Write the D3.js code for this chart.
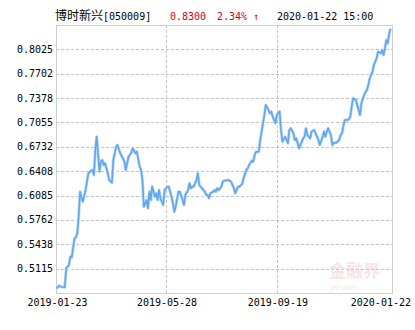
<!DOCTYPE html>
<html>
<head>
<meta charset="utf-8">
<script src="https://cdn.jsdelivr.net/npm/d3@7"></script>
<style>
  html, body { margin: 0; padding: 0; background: #fff; }
  text { font-family: "DejaVu Sans Mono", "Liberation Mono", monospace; }
</style>
</head>
<body>
<div id="navChart"></div>
<script>
// Header texts
const fundName = "博时新兴[050009]";
const lastNav = "0.8300";
const lastChange = "2.34% ↑";
const lastTime = "2020-01-22 15:00";

// Trading-day index of every point
const days = [
  0, 2, 3, 6, 7, 9, 10, 11, 13, 14,
  15, 16, 17, 19, 20, 21, 22, 23, 25, 26,
  27, 28, 29, 30, 31, 32, 33, 34, 35, 37,
  38, 40, 41, 43, 44, 46, 47, 49, 50, 52,
  54, 55, 57, 58, 60, 61, 62, 63, 65, 66,
  67, 68, 69, 71, 72, 73, 74, 75, 77, 78,
  80, 81, 83, 84, 85, 86, 88, 89, 91, 92,
  93, 95, 96, 97, 98, 99, 101, 102, 103, 104,
  105, 107, 108, 109, 110, 111, 113, 114, 115, 116,
  117, 119, 120, 121, 124, 126, 128, 129, 131, 132,
  134, 135, 137, 138, 139, 141, 142, 143, 144, 146,
  147, 148, 149, 150, 151, 153, 154, 155, 156, 158,
  159, 160, 161, 162, 163, 165, 166, 167, 168, 169,
  171, 172, 173, 174, 175, 177, 178, 179, 180, 181,
  183, 184, 186, 187, 188, 189, 190, 192, 193, 194,
  195, 196, 198, 199, 200, 201, 202, 204, 205, 206,
  207, 208, 210, 211, 212, 213, 214, 216, 217, 218,
  219, 220, 222, 223, 224, 225, 226, 228, 229, 230,
  231, 232, 234, 235, 236, 237, 238, 239, 240, 241
];

// Unit net value
const nav = [
  0.4854, 0.4889, 0.4876, 0.4868, 0.5120, 0.5164, 0.5274, 0.5266, 0.5518, 0.5531,
  0.5584, 0.5805, 0.6136, 0.6004, 0.6079, 0.6159, 0.6269, 0.6380, 0.6415, 0.6424,
  0.6358, 0.6690, 0.6866, 0.6646, 0.6402, 0.6534, 0.6557, 0.6491, 0.6513, 0.6380,
  0.6292, 0.6256, 0.6557, 0.6733, 0.6756, 0.6646, 0.6610, 0.6534, 0.6424, 0.6601,
  0.6654, 0.6712, 0.6646, 0.6667, 0.6468, 0.6424, 0.6292, 0.5937, 0.6026, 0.5916,
  0.6136, 0.6026, 0.6203, 0.6070, 0.6115, 0.6026, 0.6159, 0.6049, 0.5960, 0.6159,
  0.6203, 0.6203, 0.6070, 0.5982, 0.5871, 0.5937, 0.6136, 0.6136, 0.6026, 0.5960,
  0.6093, 0.6159, 0.6248, 0.6181, 0.6203, 0.6203, 0.6292, 0.6380, 0.6225, 0.6203,
  0.6181, 0.6136, 0.6093, 0.6093, 0.6049, 0.6115, 0.6136, 0.6159, 0.6136, 0.6181,
  0.6159, 0.6203, 0.6269, 0.6282, 0.6292, 0.6269, 0.6181, 0.6115, 0.6203, 0.6203,
  0.6238, 0.6314, 0.6424, 0.6447, 0.6491, 0.6548, 0.6534, 0.6623, 0.6667, 0.6667,
  0.6822, 0.6933, 0.7044, 0.7154, 0.7287, 0.7220, 0.7177, 0.7198, 0.7132, 0.7044,
  0.7154, 0.7185, 0.7198, 0.6955, 0.6800, 0.6866, 0.6822, 0.6779, 0.6955, 0.6978,
  0.6911, 0.6822, 0.6845, 0.6779, 0.6712, 0.6800, 0.6845, 0.6866, 0.6978, 0.6889,
  0.6845, 0.6933, 0.6955, 0.6911, 0.6866, 0.6822, 0.6756, 0.6866, 0.6933, 0.6866,
  0.6933, 0.6978, 0.6889, 0.6756, 0.6779, 0.6787, 0.6787, 0.6822, 0.6889, 0.6911,
  0.7008, 0.7088, 0.7088, 0.7097, 0.7132, 0.7264, 0.7376, 0.7353, 0.7287, 0.7220,
  0.7154, 0.7309, 0.7420, 0.7463, 0.7486, 0.7552, 0.7641, 0.7729, 0.7818, 0.7861,
  0.7907, 0.7994, 0.7973, 0.8017, 0.7950, 0.8039, 0.8149, 0.8106, 0.8227, 0.8300
];

// Axis ticks
const yTicks = [0.5115, 0.5438, 0.5762, 0.6085, 0.6408, 0.6732, 0.7055, 0.7378, 0.7702, 0.8025];
const yDomain = [0.4792, 0.8348];
const xTickDays = [0, 79, 159, 241];
const xTickLabels = ["2019-01-23", "2019-05-28", "2019-09-19", "2020-01-22"];

// Dimensions
const W = 415, H = 330;
const margin = { top: 25, right: 23, bottom: 37, left: 56 };
const plotW = W - margin.left - margin.right;
const plotH = H - margin.top - margin.bottom;

const svg = d3.select("#navChart")
  .append("svg")
  .attr("width", W)
  .attr("height", H);

// Scales
const x = d3.scaleLinear().domain([0, 241]).range([margin.left + 0.5, margin.left + plotW - 1.5]);
const y = d3.scaleLinear().domain(yDomain).range([margin.top + plotH, margin.top]);
const crisp = v => Math.round(v) + 0.5;

// Header
const header = svg.append("text")
  .attr("y", 20)
  .style("font-size", "10px");
header.append("tspan").attr("x", 55)
  .style("font-family", "'Noto Sans CJK SC', sans-serif").style("font-size", "12px")
  .text(fundName.slice(0, 4));
header.append("tspan").text(fundName.slice(4));
svg.append("text").attr("x", 170).attr("y", 20).style("font-size", "10px")
  .attr("fill", "#d4001f").text(lastNav);
svg.append("text").attr("x", 217).attr("y", 20).style("font-size", "10px")
  .attr("fill", "#d4001f").text(lastChange);
svg.append("text").attr("x", 277).attr("y", 20).style("font-size", "10px")
  .attr("fill", "#000").text(lastTime);

// Watermark
const mark = svg.append("g").attr("opacity", 0.22);
mark.append("text").attr("x", 329).attr("y", 277)
  .style("font-family", "'Noto Sans CJK SC', sans-serif").style("font-size", "17px")
  .style("font-weight", "bold").attr("fill", "#e08a8a").text("金融界");
mark.append("text").attr("x", 331).attr("y", 290)
  .style("font-family", "'DejaVu Sans', sans-serif").style("font-size", "7px")
  .style("font-style", "italic").attr("fill", "#e08a8a").text("JRJ.com");

// Horizontal grid
svg.append("g")
  .selectAll("line")
  .data(yTicks)
  .join("line")
  .attr("x1", margin.left)
  .attr("x2", margin.left + plotW)
  .attr("y1", d => crisp(y(d)))
  .attr("y2", d => crisp(y(d)))
  .attr("stroke", "#c4c4c4")
  .attr("stroke-dasharray", "3,2");

// Vertical grid (inner ticks only)
svg.append("g")
  .selectAll("line")
  .data(xTickDays.slice(1, -1))
  .join("line")
  .attr("x1", d => crisp(x(d)))
  .attr("x2", d => crisp(x(d)))
  .attr("y1", margin.top)
  .attr("y2", margin.top + plotH)
  .attr("stroke", "#c4c4c4")
  .attr("stroke-dasharray", "3,2");

// Frame
svg.append("rect")
  .attr("x", margin.left + 0.5)
  .attr("y", margin.top + 0.5)
  .attr("width", plotW)
  .attr("height", plotH)
  .attr("fill", "none")
  .attr("stroke", "#cfcfcf");

// Y labels
svg.append("g")
  .selectAll("text")
  .data(yTicks)
  .join("text")
  .attr("x", 53)
  .attr("y", d => y(d))
  .attr("dy", "0.35em")
  .attr("text-anchor", "end")
  .style("font-size", "10px")
  .text(d => d.toFixed(4));

// X labels
svg.append("g")
  .selectAll("text")
  .data(xTickDays)
  .join("text")
  .attr("x", (d, i) => i === xTickDays.length - 1 ? 411 : x(d) + 1)
  .attr("y", 306)
  .attr("text-anchor", (d, i) => i === xTickDays.length - 1 ? "end" : "middle")
  .style("font-size", "10px")
  .text((d, i) => xTickLabels[i]);

// NAV line
const line = d3.line()
  .x((d, i) => x(days[i]))
  .y(d => y(d));

svg.append("path")
  .datum(nav)
  .attr("d", line)
  .attr("fill", "none")
  .attr("stroke", "#b9d8f8")
  .attr("stroke-width", 3)
  .attr("stroke-linejoin", "round");

svg.append("path")
  .datum(nav)
  .attr("d", line)
  .attr("fill", "none")
  .attr("stroke", "#62a6ee")
  .attr("stroke-width", 1.6)
  .attr("stroke-linejoin", "round");
</script>
</body>
</html>
